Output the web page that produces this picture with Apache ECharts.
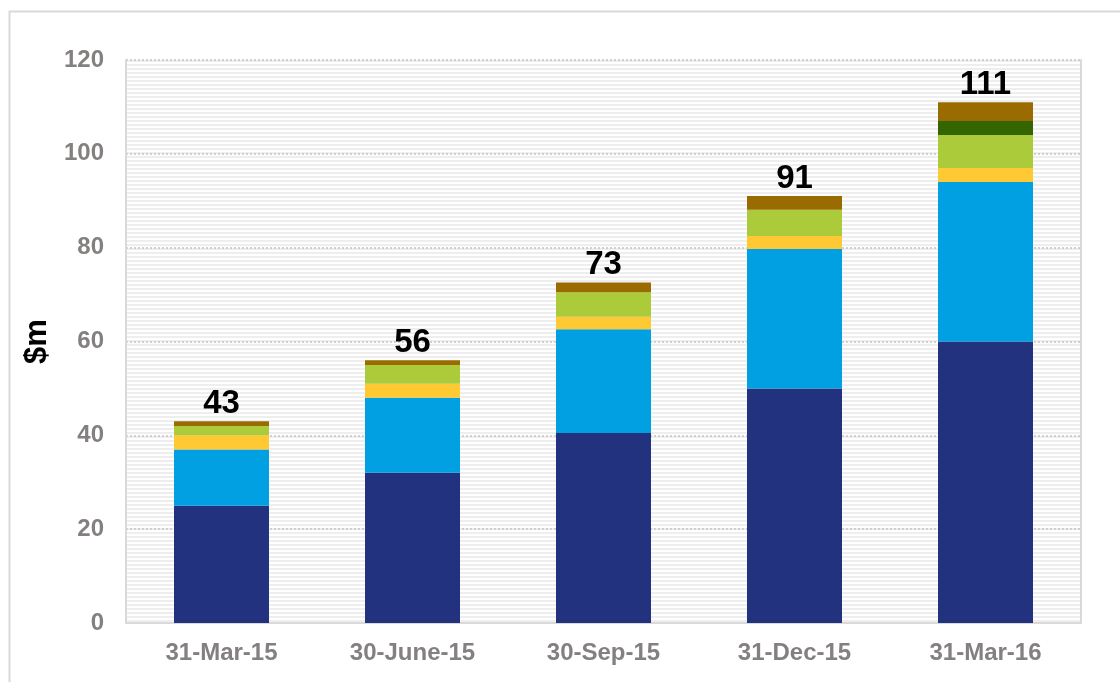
<!DOCTYPE html>
<html>
<head>
<meta charset="utf-8">
<title>$m by quarter</title>
<script src="https://cdn.jsdelivr.net/npm/echarts@6/dist/echarts.min.js"></script>
<style>
    html, body { margin: 0; padding: 0; background: #fff; }
    #userCharts1 { width: 1120px; height: 682px; }
</style>
</head>
<body>
<div id="userCharts1"></div>
<script>
// categories and stacked values ($m), bottom to top
var categories = ['31-Mar-15', '30-June-15', '30-Sep-15', '31-Dec-15', '31-Mar-16'];
var navyData = [25, 32, 40.5, 50, 60];
var blueData = [12, 16, 22.1, 29.7, 34];
var yellowData = [3, 3, 2.7, 2.8, 3];
var limeData = [2, 4, 5.2, 5.6, 7];
var darkGreenData = [0, 0, 0, 0, 3];
var brownData = [1, 1, 2.1, 2.9, 4];
var totals = [43, 56, 73, 91, 111];

var FONT = '"Liberation Sans", Arial, sans-serif';
var GREY = '#858080';
var LINE = '#d9d9d9';

// striped background of the plot area
function stripes() {
    var c = document.createElement('canvas');
    c.width = 4;
    c.height = 4;
    var ctx = c.getContext('2d');
    ctx.fillStyle = '#ffffff';
    ctx.fillRect(0, 0, 4, 4);
    ctx.fillStyle = '#eeeeee';
    ctx.fillRect(0, 0, 4, 2);
    return c;
}

function barSeries(name, data, color) {
    return {
        name: name,
        type: 'bar',
        stack: 'total',
        barWidth: 95,
        data: data,
        itemStyle: { color: color },
        emphasis: { disabled: true }
    };
}

var myChart1 = echarts.init(document.getElementById('userCharts1'));

var series = [
    barSeries('s1', navyData, '#22327e'),
    barSeries('s2', blueData, '#00a0e2'),
    barSeries('s3', yellowData, '#ffc933'),
    barSeries('s4', limeData, '#abcb3b'),
    barSeries('s5', darkGreenData, '#336600'),
    barSeries('s6', brownData, '#9a6b00')
];
// total on top of each column
series[5].label = {
    show: true,
    position: 'top',
    distance: 1,
    color: '#000',
    fontFamily: FONT,
    fontWeight: 'bold',
    fontSize: 33,
    formatter: function (p) { return totals[p.dataIndex]; }
};

var option = {
    animation: false,
    backgroundColor: '#fff',
    graphic: [{
        type: 'rect',
        left: 7,
        top: 9,
        shape: { width: 1300, height: 900 },
        style: { fill: 'none', stroke: LINE, lineWidth: 2 },
        silent: true
    }],
    grid: {
        left: 126,
        right: 39,
        top: 60,
        bottom: 59,
        show: true,
        borderWidth: 0,
        backgroundColor: { image: stripes(), repeat: 'repeat' }
    },
    xAxis: {
        type: 'category',
        data: categories,
        axisTick: { show: false },
        axisLine: { show: true, lineStyle: { color: LINE, width: 2 } },
        axisLabel: {
            margin: 18,
            color: GREY,
            fontFamily: FONT,
            fontWeight: 'bold',
            fontSize: 24
        }
    },
    yAxis: [{
        type: 'value',
        min: 0,
        max: 120,
        interval: 20,
        name: '$m',
        nameLocation: 'middle',
        nameGap: 66,
        nameTextStyle: {
            color: '#000',
            fontFamily: FONT,
            fontWeight: 'bold',
            fontSize: 31
        },
        axisLine: { show: true, lineStyle: { color: LINE, width: 2 } },
        axisTick: { show: false },
        splitLine: { lineStyle: { color: '#c4c4c4', width: 1.5, type: [2, 2] } },
        axisLabel: {
            margin: 22,
            color: GREY,
            fontFamily: FONT,
            fontWeight: 'bold',
            fontSize: 24
        }
    }, {
        // right edge of the plot frame
        type: 'value',
        position: 'right',
        min: 0,
        max: 120,
        axisLine: { show: true, lineStyle: { color: LINE, width: 2 } },
        axisTick: { show: false },
        axisLabel: { show: false },
        splitLine: { show: false }
    }],
    series: series
};

myChart1.setOption(option);
</script>
</body>
</html>
